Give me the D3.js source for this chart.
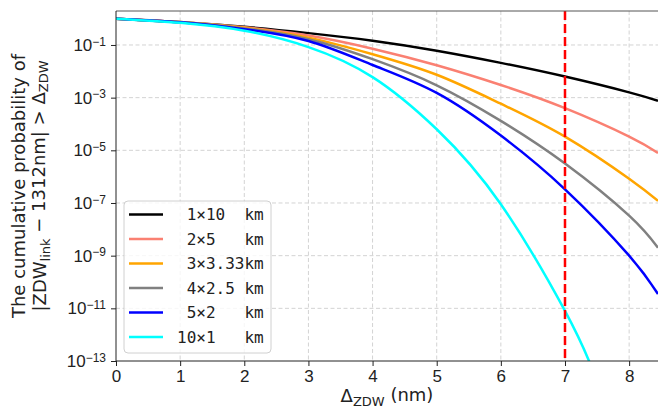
<!DOCTYPE html>
<html>
<head>
<meta charset="utf-8">
<script src="https://cdn.jsdelivr.net/npm/d3@7"></script>
<style>
    body { margin: 0; background: #fff; }
    svg { display: block; font-family: "DejaVu Sans", sans-serif; }
    .legend text { font-family: "DejaVu Sans Mono", monospace; white-space: pre; }
</style>
</head>
<body>
<svg id="chart" width="658" height="415"></svg>
<script>
// values, stored as log10 of the probability
const xs = [0, 1, 2, 3, 4, 5, 6, 7, 8, 8.45];
const black = [0, -0.14, -0.31, -0.55, -0.84, -1.22, -1.68, -2.20, -2.80, -3.12];
const pink = [0, -0.13, -0.33, -0.64, -1.14, -1.77, -2.52, -3.40, -4.48, -5.10];
const orange = [0, -0.13, -0.35, -0.72, -1.35, -2.13, -3.23, -4.48, -6.08, -6.92];
const gray = [0, -0.13, -0.37, -0.78, -1.54, -2.53, -3.88, -5.50, -7.48, -8.70];
const blue = [0, -0.14, -0.40, -0.85, -1.76, -2.82, -4.44, -6.48, -9.00, -10.46];
const cyanX = [0, 1, 2, 3, 4, 5, 6, 7, 7.4];
const cyan = [0, -0.16, -0.46, -1.08, -2.22, -4.2, -7.05, -11.1, -13.15];

const labels = [' 1×10  km', ' 2×5   km', ' 3×3.33km', ' 4×2.5 km', ' 5×2   km', '10×1   km'];
const colors = ['#000000', '#fa8072', '#ffa500', '#808080', '#0000ff', '#00ffff'];
const xTicks = [0, 1, 2, 3, 4, 5, 6, 7, 8];
const yTickExp = [-1, -3, -5, -7, -9, -11, -13];
const markerX = 7;

const series = [
    { x: xs, y: black },
    { x: xs, y: pink },
    { x: xs, y: orange },
    { x: xs, y: gray },
    { x: xs, y: blue },
    { x: cyanX, y: cyan }
];

const margin = { left: 116, top: 11, right: 0, bottom: 54 };
const width = 658 - margin.left - margin.right;
const height = 415 - margin.top - margin.bottom;

const svg = d3.select('#chart');
const g = svg.append('g').attr('transform', `translate(${margin.left},${margin.top})`);

const x = d3.scaleLinear().domain([0, 8.45]).range([0, width]);
const y = d3.scaleLog().domain([1e-13, 1.95]).range([height, 0]);

// grid
g.append('g')
    .selectAll('line')
    .data(xTicks.slice(1))
    .enter()
    .append('line')
    .attr('x1', d => x(d)).attr('x2', d => x(d))
    .attr('y1', 0).attr('y2', height)
    .style('stroke', '#d3d3d3')
    .style('stroke-dasharray', '4,2.5');
g.append('g')
    .selectAll('line')
    .data(yTickExp.slice(0, -1))
    .enter()
    .append('line')
    .attr('x1', 0).attr('x2', width)
    .attr('y1', d => y(Math.pow(10, d))).attr('y2', d => y(Math.pow(10, d)))
    .style('stroke', '#d3d3d3')
    .style('stroke-dasharray', '4,2.5');

// curves
g.append('clipPath').attr('id', 'clip')
    .append('rect').attr('width', width).attr('height', height);

const line = d3.line()
    .x(d => x(d[0]))
    .y(d => y(Math.pow(10, d[1])))
    .curve(d3.curveNatural);

g.append('g')
    .attr('clip-path', 'url(#clip)')
    .selectAll('path')
    .data(series)
    .enter()
    .append('path')
    .attr('d', s => line(s.x.map((v, i) => [v, s.y[i]])))
    .style('fill', 'none')
    .style('stroke', (s, i) => colors[i])
    .style('stroke-width', 2.5);

// red marker line
g.append('line')
    .attr('x1', x(markerX)).attr('x2', x(markerX))
    .attr('y1', 0).attr('y2', height)
    .style('stroke', '#ff0000')
    .style('stroke-width', 2.5)
    .style('stroke-dasharray', '9,4');

// axes
const xAxis = g.append('g')
    .attr('transform', `translate(0,${height})`)
    .call(d3.axisBottom(x).tickValues(xTicks).tickSize(5).tickPadding(4).tickFormat(d3.format('d')));
xAxis.selectAll('text').style('font-size', '17px').style('fill', '#222');

const yAxis = g.append('g')
    .call(d3.axisLeft(y).tickValues(yTickExp.map(e => Math.pow(10, e))).tickSize(5).tickPadding(8).tickFormat(''));
yAxis.selectAll('.tick').each(function (d) {
    const t = d3.select(this).append('text')
        .attr('x', -10)
        .attr('dy', '0.32em')
        .attr('text-anchor', 'end')
        .style('font-size', '17px')
        .style('fill', '#222');
    t.append('tspan').text('10');
    t.append('tspan').attr('dy', '-0.45em').style('font-size', '12px').text('\u2212' + Math.abs(Math.round(Math.log10(d))));
});

[xAxis, yAxis].forEach(a => {
    a.select('.domain').remove();
    a.selectAll('line').style('stroke', '#222');
});

// frame
g.append('line').attr('x1', 0).attr('x2', width).attr('y1', 0).attr('y2', 0).style('stroke', '#555');
g.append('line').attr('x1', 0).attr('x2', width).attr('y1', height).attr('y2', height).style('stroke', '#222');
g.append('line').attr('x1', 0).attr('x2', 0).attr('y1', 0).attr('y2', height).style('stroke', '#222');

// axis labels
const xl = svg.append('text')
    .attr('x', margin.left + width / 2)
    .attr('y', 402)
    .attr('text-anchor', 'middle')
    .style('font-size', '18px')
    .style('fill', '#222');
xl.append('tspan').text('Δ');
xl.append('tspan').attr('dy', '0.3em').style('font-size', '13px').text('ZDW');
xl.append('tspan').attr('dy', '-0.3em').text(' (nm)');

const yl = svg.append('text')
    .attr('transform', `translate(25,${margin.top + height / 2}) rotate(-90)`)
    .attr('text-anchor', 'middle')
    .style('font-size', '18px')
    .style('fill', '#222');
yl.append('tspan').attr('x', 0).attr('y', 0).text('The cumulative probability of');
const yl2 = yl.append('tspan').attr('x', 0).attr('y', 21);
yl2.append('tspan').text('|ZDW');
yl2.append('tspan').attr('dy', '0.3em').style('font-size', '13px').text('link');
yl2.append('tspan').attr('dy', '-0.3em').text(' \u2212 1312nm| > Δ');
yl2.append('tspan').attr('dy', '0.3em').style('font-size', '13px').text('ZDW');

// legend
const legend = svg.append('g')
    .attr('class', 'legend')
    .attr('transform', 'translate(124,201)');
legend.append('rect')
    .attr('width', 147).attr('height', 152)
    .attr('rx', 4)
    .style('fill', 'rgba(255,255,255,0.8)')
    .style('stroke', '#d0d0d0');
labels.forEach((lab, i) => {
    const ly = 13.5 + i * 24.5;
    legend.append('line')
        .attr('x1', 5).attr('x2', 39)
        .attr('y1', ly).attr('y2', ly)
        .style('stroke', colors[i])
        .style('stroke-width', 2.5);
    legend.append('text')
        .attr('x', 53).attr('y', ly)
        .attr('dy', '0.35em')
        .attr('xml:space', 'preserve')
        .style('font-size', '16px')
        .style('fill', '#222')
        .text(lab);
});
</script>
</body>
</html>
